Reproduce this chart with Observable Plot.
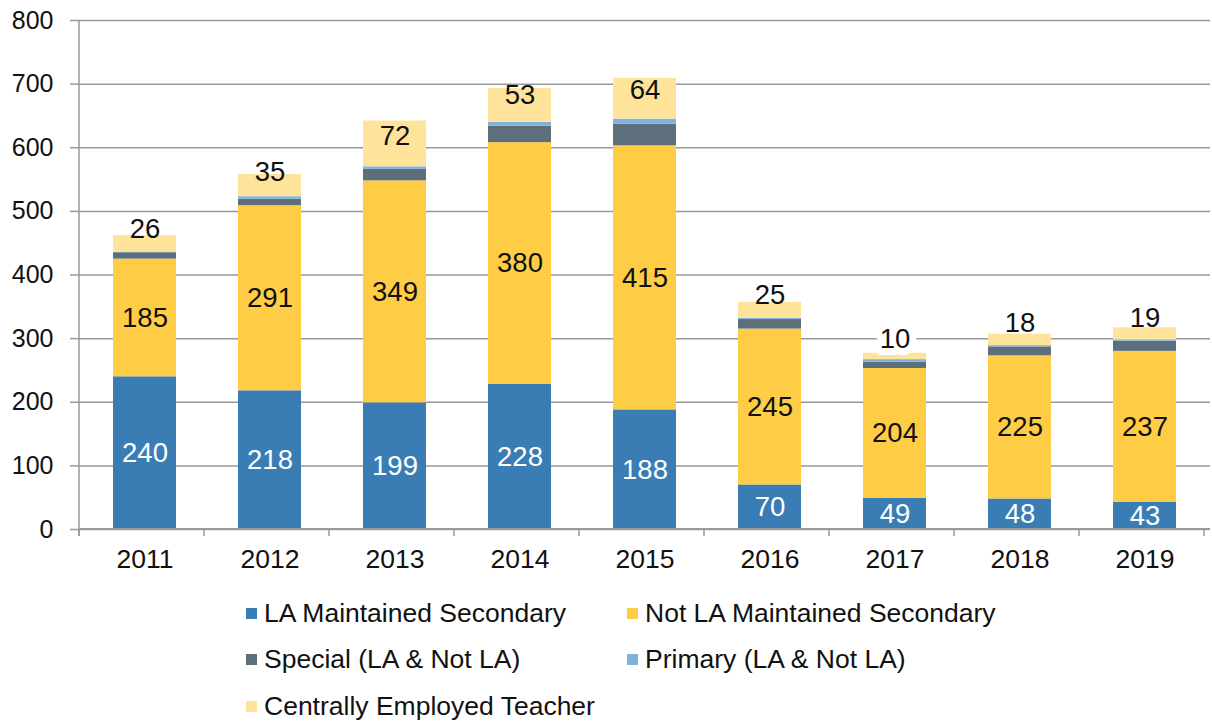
<!DOCTYPE html>
<html><head><meta charset="utf-8">
<script src="https://cdn.jsdelivr.net/npm/d3@7"></script>
<script src="https://cdn.jsdelivr.net/npm/@observablehq/plot@0.6"></script>
<style>
body{margin:0;background:#fff;font-family:"Liberation Sans",Arial,sans-serif;}
#legend{display:grid;grid-template-columns:381px 420px;margin-left:246px;margin-top:10px;}
.item{display:flex;align-items:center;height:46.5px;font-size:26.5px;color:#111;white-space:nowrap;}
.sw{width:11px;height:11px;margin-right:7px;flex:none;}
</style></head><body><div id="chart"></div><div id="legend"></div>
<script>
const years = ["2011","2012","2013","2014","2015","2016","2017","2018","2019"];
const seriesNames = ["LA Maintained Secondary","Not LA Maintained Secondary","Special (LA & Not LA)","Primary (LA & Not LA)","Centrally Employed Teacher"];
const seriesColors = ["#3A7DB4","#FFCD45","#5C6F7B","#7FB3DD","#FFE39A"];
const laMaintained = [240,218,199,228,188,70,49,48,43];
const notLaMaintained = [185,291,349,380,415,245,204,225,237];
const special = [10,10,18,26,34,15,10,14,16];
const primary = [1,4,4,6,8,2,4,2,2];
const central = [26,35,72,53,64,25,10,18,19];
const yTicks = [0,100,200,300,400,500,600,700,800];

const seriesValues = [laMaintained, notLaMaintained, special, primary, central];
const rows = [];
years.forEach((yr, i) => {
  let cum = 0;
  seriesValues.forEach((vals, s) => {
    rows.push({year: yr, series: seriesNames[s], value: vals[i], y1: cum, y2: cum + vals[i], mid: cum + vals[i] / 2});
    cum += vals[i];
  });
});
const laRows = rows.filter(d => d.series === seriesNames[0]);
const notLaRows = rows.filter(d => d.series === seriesNames[1]);
const centralRows = rows.filter(d => d.series === seriesNames[4]).map(d => {
  const pos = d.y2 + 30 - 0.75 * d.value;
  const nearGrid = Math.abs(pos - Math.round(pos / 100) * 100) < 15 && pos - d.y2 > 12;
  return {...d, pos, halo: nearGrid};
});

const axisLines = (index, scales, values, dims) => {
  const g = d3.create("svg:g");
  const left = dims.marginLeft, right = dims.width - dims.marginRight;
  const bottom = dims.height - dims.marginBottom, top = dims.marginTop;
  g.append("line").attr("x1", left).attr("x2", left).attr("y1", top).attr("y2", bottom + 7)
    .attr("stroke", "#999").attr("stroke-width", 1.5);
  g.append("line").attr("x1", left).attr("x2", right).attr("y1", bottom).attr("y2", bottom)
    .attr("stroke", "#999").attr("stroke-width", 2);
  const step = scales.x(years[1]) - scales.x(years[0]);
  for (let i = 0; i <= years.length; i++) {
    const xx = left + i * step;
    g.append("line").attr("x1", xx).attr("x2", xx).attr("y1", bottom).attr("y2", bottom + 7)
      .attr("stroke", "#999").attr("stroke-width", 1.5);
  }
  return g.node();
};

const chart = Plot.plot({
  width: 1212,
  height: 580,
  marginTop: 20,
  marginBottom: 51,
  marginLeft: 79,
  marginRight: 2,
  style: {fontFamily: "'Liberation Sans', Arial, sans-serif", background: "#fff", color: "#111"},
  x: {domain: years, paddingInner: 0.5, paddingOuter: 0.25, label: null},
  y: {domain: [0, 800], label: null},
  color: {domain: seriesNames, range: seriesColors},
  marks: [
    Plot.gridY(yTicks, {stroke: "#999", strokeOpacity: 1, strokeWidth: 1.5}),
    Plot.barY(rows, {x: "year", y1: "y1", y2: "y2", fill: "series"}),
    axisLines,
    Plot.axisY(yTicks, {tickSize: 9, tickPadding: 17, stroke: "#999", strokeWidth: 1.5, fill: "#111", fontSize: 25, label: null}),
    Plot.axisX({tickSize: 0, tickPadding: 20, fill: "#111", fontSize: 26.5, label: null}),
    Plot.text(laRows, {x: "year", y: "mid", text: d => String(d.value), fill: "white", fontSize: 27.5}),
    Plot.text(notLaRows, {x: "year", y: "mid", text: d => String(d.value), fill: "#111", fontSize: 27.5}),
    Plot.text(centralRows, {x: "year", y: "pos", text: d => String(d.value), fill: "#111", fontSize: 27.5,
      stroke: d => d.halo ? "white" : "none", strokeWidth: 14})
  ]
});
document.getElementById("chart").appendChild(chart);

const legend = document.getElementById("legend");
seriesNames.forEach((name, i) => {
  const item = document.createElement("div");
  item.className = "item";
  const sw = document.createElement("span");
  sw.className = "sw";
  sw.style.background = seriesColors[i];
  item.appendChild(sw);
  item.appendChild(document.createTextNode(name));
  legend.appendChild(item);
});
</script></body></html>
